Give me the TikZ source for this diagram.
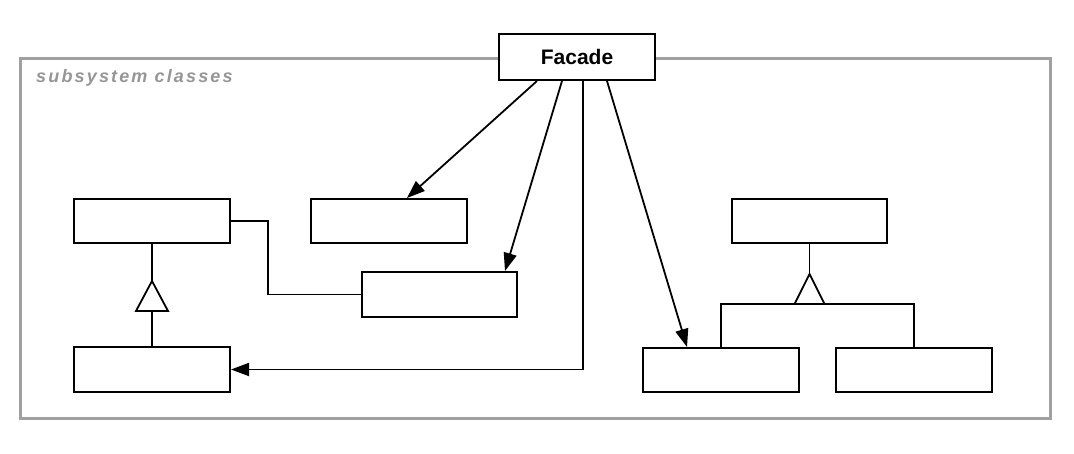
\documentclass[tikz,border=0pt]{standalone}
\usepackage{fontspec}
\setmainfont{Liberation Sans}
\usetikzlibrary{arrows.meta,calc}
\definecolor{framegray}{RGB}{160,160,160}
\definecolor{textgray}{RGB}{150,150,150}
\begin{document}
\begin{tikzpicture}[x=1pt,y=-1pt,
  cls/.style={draw=black,line width=2pt,fill=white,minimum width=156pt,minimum height=44pt,inner sep=0pt},
  conn/.style={draw=black,line width=1.8pt},
  arr/.style={conn,-{Triangle[length=18pt,width=13pt]}},
  inh/.style={draw=black,line width=1.8pt,fill=white}]
\useasboundingbox (0,0) rectangle (1074,454);
% frame
\draw[framegray,line width=3pt] (20,59) rectangle (1050,418);
\node[anchor=base west,inner sep=0pt,text=textgray,font=\fontsize{18}{20}\selectfont\bfseries\itshape\addfontfeature{LetterSpace=12}] (lbl) at (36,83) {subsystem classes};
% facade
\node[cls,minimum height=46pt,font=\fontsize{21}{24}\selectfont\bfseries] (facade) at (577,57) {Facade};
% classes
\node[cls] (A) at (152,221) {};
\node[cls] (B) at (389,221) {};
\node[cls,minimum width=155pt,minimum height=45pt] (C) at (439.5,294.5) {};
\node[cls,minimum height=45pt] (D) at (152,369.5) {};
\node[cls,minimum width=155pt] (E) at (809.5,221) {};
\node[cls] (F) at (721,370) {};
\node[cls] (G) at (914,370) {};
% association A - C
\draw[conn] (A.east) -- ++(37,0) |- (C.west);
% inheritance A <- D
\coordinate (tA) at ($(A.south)+(0,37)$);
\draw[conn] (A.south) -- (tA);
\draw[inh] (tA) -- ++(16,30) -- ++(-32,0) -- cycle;
\draw[conn] ($(tA)+(0,30)$) -- (D.north);
% inheritance E <- F, G
\coordinate (tE) at ($(E.south)+(0,30)$);
\draw[conn] (E.south) -- (tE);
\coordinate (bar) at ($(tE)+(0,30)$);
\draw[conn] (F.north) |- (bar) -| (G.north);
\draw[inh] (tE) -- ++(15,30) -- ++(-30,0) -- cycle;
% facade arrows
\draw[arr] ($(facade.south)+(-40,0)$) -- ($(B.north)+(18,0)$);
\draw[arr] ($(facade.south)+(-15,0)$) -- ($(C.north)+(65.5,0)$);
\draw[arr] ($(facade.south)+(6,0)$) |- (D.east);
\draw[arr] ($(facade.south)+(30,0)$) -- ($(F.north)+(-34,0)$);
\end{tikzpicture}
\end{document}
